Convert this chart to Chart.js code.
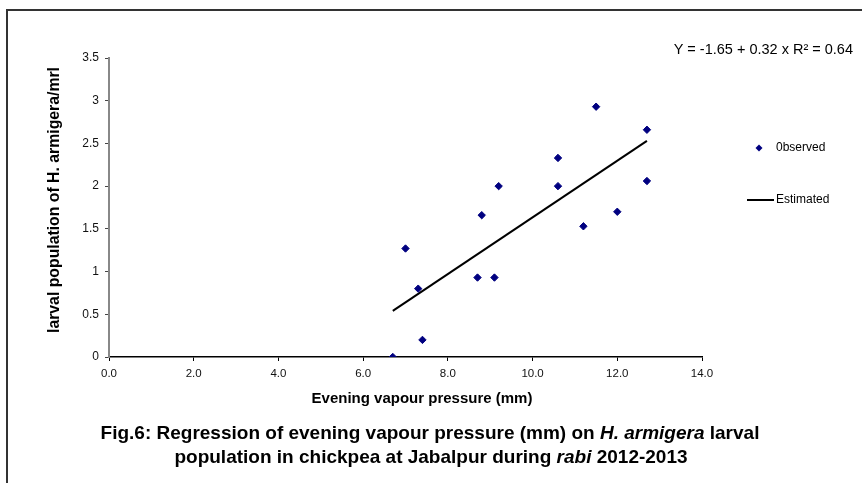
<!DOCTYPE html>
<html>
<head>
<meta charset="utf-8">
<script src="https://cdn.jsdelivr.net/npm/chart.js@4.4.1/dist/chart.umd.min.js"></script>
<style>
  body { margin: 0; background: #fff; }
  canvas { display: block; }
</style>
</head>
<body>
<canvas id="fig6" width="862" height="483"></canvas>
<script>
// Observed points (evening vapour pressure vs larvae per mrl)
const vapourPressure = [6.7, 7.0, 7.3, 7.4, 8.7, 8.8, 9.1, 9.2, 10.6, 10.6, 11.2, 11.5, 12.0, 12.7, 12.7];
const larvalPopulation = [0, 1.27, 0.80, 0.20, 0.93, 1.66, 0.93, 2.0, 2.33, 2.0, 1.53, 2.93, 1.70, 2.66, 2.06];

// Estimated regression line end points
const fitPressure = [6.7, 12.7];
const fitLarvae = [0.54, 2.53];

const seriesNames = ["0bserved", "Estimated"];
const equationText = "Y = -1.65 + 0.32 x R\u00B2 = 0.64";
const xTitle = "Evening vapour pressure (mm)";
const yTitle = "larval population of H. armigera/mrl";

const FONT = "'Liberation Sans', Arial, sans-serif";
const NAVY = "#000080";

// caption pieces: [text, italic]
const captionLine1 = [["Fig.6: Regression of evening vapour pressure (mm) on ", false], ["H. armigera", true], [" larval", false]];
const captionLine2 = [["population in chickpea at Jabalpur during ", false], ["rabi", true], [" 2012-2013", false]];

const observed = vapourPressure.map((x, i) => ({ x: x, y: larvalPopulation[i] }));
const estimated = fitPressure.map((x, i) => ({ x: x, y: fitLarvae[i] }));

function drawMixed(ctx, parts, cx, y, size) {
    let total = 0;
    parts.forEach(([t, it]) => {
        ctx.font = (it ? "italic " : "") + "bold " + size + "px " + FONT;
        total += ctx.measureText(t).width;
    });
    let x = cx - total / 2;
    parts.forEach(([t, it]) => {
        ctx.font = (it ? "italic " : "") + "bold " + size + "px " + FONT;
        ctx.fillText(t, x, y);
        x += ctx.measureText(t).width;
    });
}

const decorations = {
    id: "decorations",
    afterDraw(chart) {
        const ctx = chart.ctx;
        ctx.save();

        // outer frame (only top and left fall inside the picture)
        ctx.strokeStyle = "#333";
        ctx.lineWidth = 2;
        ctx.strokeRect(7, 10, 900, 520);

        ctx.fillStyle = "#000";
        ctx.textBaseline = "middle";

        // equation
        ctx.font = "14.5px " + FONT;
        ctx.textAlign = "right";
        ctx.fillText(equationText, 853, 50);

        // legend
        ctx.textAlign = "left";
        ctx.font = "12px " + FONT;
        ctx.fillStyle = NAVY;
        ctx.beginPath();
        ctx.moveTo(759, 144.5);
        ctx.lineTo(762.5, 148);
        ctx.lineTo(759, 151.5);
        ctx.lineTo(755.5, 148);
        ctx.closePath();
        ctx.fill();
        ctx.fillStyle = "#000";
        ctx.fillText(seriesNames[0], 776, 148);
        ctx.strokeStyle = "#000";
        ctx.lineWidth = 2;
        ctx.beginPath();
        ctx.moveTo(747, 200);
        ctx.lineTo(774, 200);
        ctx.stroke();
        ctx.fillText(seriesNames[1], 776, 200);

        // axis titles
        ctx.textAlign = "center";
        ctx.font = "bold 15px " + FONT;
        ctx.fillText(xTitle, 422, 399);
        ctx.save();
        ctx.translate(55, 200);
        ctx.rotate(-Math.PI / 2);
        ctx.font = "bold 15.8px " + FONT;
        ctx.fillText(yTitle, 0, 0);
        ctx.restore();

        // caption
        ctx.textAlign = "left";
        drawMixed(ctx, captionLine1, 430, 434, 19);
        drawMixed(ctx, captionLine2, 431, 458, 19);

        ctx.restore();
    }
};

new Chart(document.getElementById("fig6"), {
    type: "scatter",
    data: {
        datasets: [{
            label: seriesNames[0],
            data: observed,
            pointStyle: "rectRot",
            pointRadius: 3.7,
            pointHoverRadius: 3.7,
            backgroundColor: NAVY,
            borderColor: NAVY,
            borderWidth: 1
        }, {
            label: seriesNames[1],
            data: estimated,
            showLine: true,
            borderColor: "#000",
            borderWidth: 2,
            pointRadius: 0,
            fill: false
        }]
    },
    options: {
        responsive: false,
        animation: false,
        layout: { padding: { top: 58, right: 160, left: 0, bottom: 0 } },
        plugins: {
            legend: { display: false },
            tooltip: { enabled: false }
        },
        scales: {
            x: {
                type: "linear",
                min: 0,
                max: 14,
                afterFit: (s) => { s.height = 126; },
                ticks: {
                    stepSize: 2,
                    padding: 6,
                    color: "#111",
                    font: { family: FONT, size: 11.5 },
                    maxRotation: 0,
                    callback: (v) => v.toFixed(1)
                },
                grid: { drawOnChartArea: false, drawTicks: true, tickLength: 4, color: "#000" },
                border: { display: true, color: "#000", width: 1.5 }
            },
            y: {
                type: "linear",
                min: 0,
                max: 3.5,
                afterFit: (s) => { s.width = 109; },
                ticks: {
                    stepSize: 0.5,
                    padding: 6,
                    color: "#111",
                    font: { family: FONT, size: 12 },
                    callback: (v) => String(v)
                },
                grid: { drawOnChartArea: false, drawTicks: true, tickLength: 4, color: "#444" },
                border: { display: true, color: "#888", width: 2 }
            }
        }
    },
    plugins: [decorations]
});
</script>
</body>
</html>
